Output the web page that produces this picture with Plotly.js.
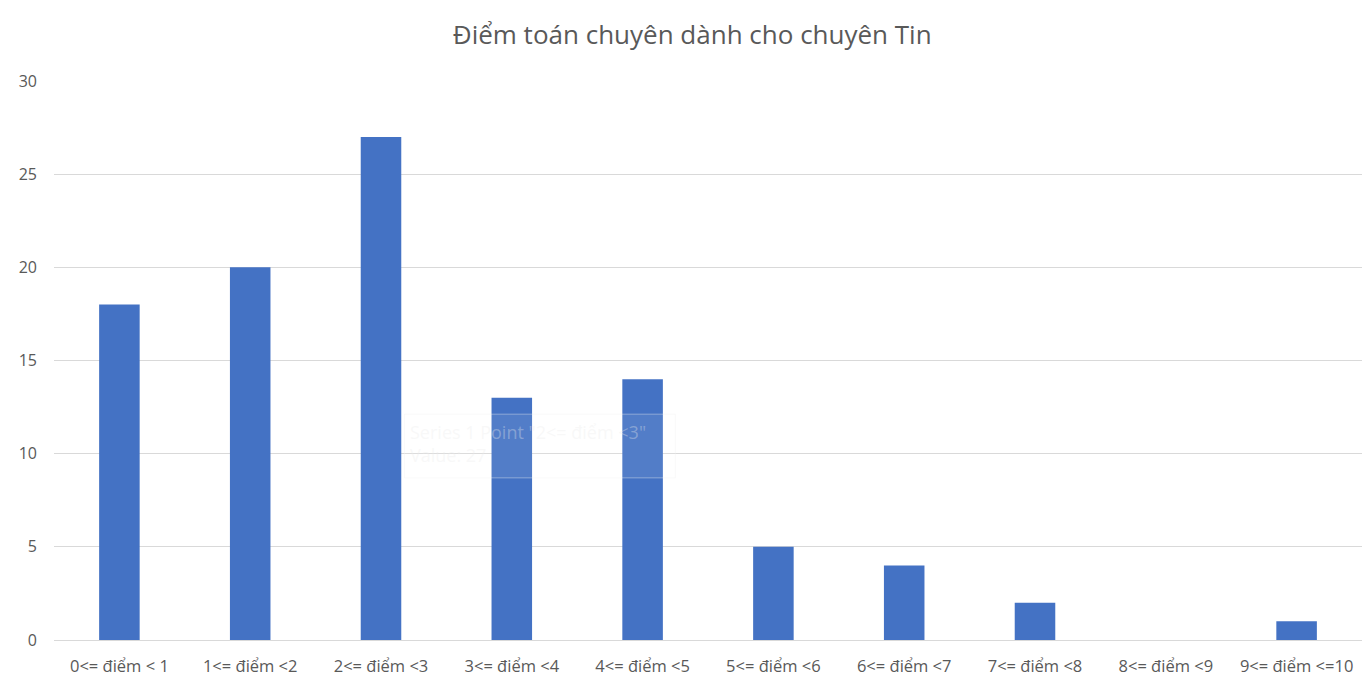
<!DOCTYPE html>
<html>
<head>
<meta charset="utf-8">
<script src="https://cdn.plot.ly/plotly-3.0.1.min.js"></script>
<style>
  html, body { margin: 0; padding: 0; background: #fff; }
  #chart { width: 1368px; height: 679px; }
</style>
</head>
<body>
<div id="chart"></div>
<script>
var categories = ["0<= điểm < 1", "1<= điểm <2", "2<= điểm <3", "3<= điểm <4", "4<= điểm <5",
                  "5<= điểm <6", "6<= điểm <7", "7<= điểm <8", "8<= điểm <9", "9<= điểm <=10"];
var counts = [18, 20, 27, 13, 14, 5, 4, 2, 0, 1];
var yTicks = [0, 5, 10, 15, 20, 25, 30];

var data = [{
  type: "bar",
  x: categories,
  y: counts,
  name: "Series 1",
  width: 0.31,
  marker: {color: "#4472C4"},
  hoverinfo: "none"
}];

var layout = {
  width: 1368,
  height: 679,
  margin: {l: 54, r: 6, t: 81, b: 39},
  paper_bgcolor: "#fff",
  plot_bgcolor: "#fff",
  showlegend: false,
  font: {family: "Open Sans, sans-serif", color: "#595959"},
  title: {
    text: "Điểm toán chuyên dành cho chuyên Tin",
    font: {family: "Open Sans, sans-serif", size: 26, color: "#595959"},
    x: 0.506, xanchor: "center",
    y: 0.948, yanchor: "middle"
  },
  xaxis: {
    type: "category",
    showgrid: false,
    zeroline: false,
    showline: false,
    ticks: "",
    ticklabelstandoff: 14,
    tickfont: {family: "Open Sans, sans-serif", size: 16.5, color: "#595959"}
  },
  yaxis: {
    range: [0, 30],
    tickvals: yTicks,
    showgrid: true,
    gridcolor: "#d9d9d9",
    gridwidth: 1,
    zeroline: true,
    zerolinecolor: "#d9d9d9",
    showline: false,
    ticks: "",
    ticklabelstandoff: 16,
    tickfont: {family: "Open Sans, sans-serif", size: 16, color: "#595959"}
  },
  shapes: [{
    type: "rect", xref: "paper", yref: "paper",
    x0: 0.268, x1: 0.475, y0: 0.29, y1: 0.404,
    fillcolor: "rgba(255,255,255,0.08)",
    line: {color: "rgba(240,240,240,0.4)", width: 1}
  }],
  annotations: [{
    xref: "paper", yref: "paper",
    x: 0.271, y: 0.398, xanchor: "left", yanchor: "top",
    align: "left",
    showarrow: false,
    text: "Series 1 Point \"2<= điểm <3\"<br>Value: 27",
    font: {family: "Open Sans, sans-serif", size: 18, color: "rgba(235,235,235,0.35)"}
  }]
};

Plotly.newPlot("chart", data, layout, {displayModeBar: false, staticPlot: true});
</script>
</body>
</html>
